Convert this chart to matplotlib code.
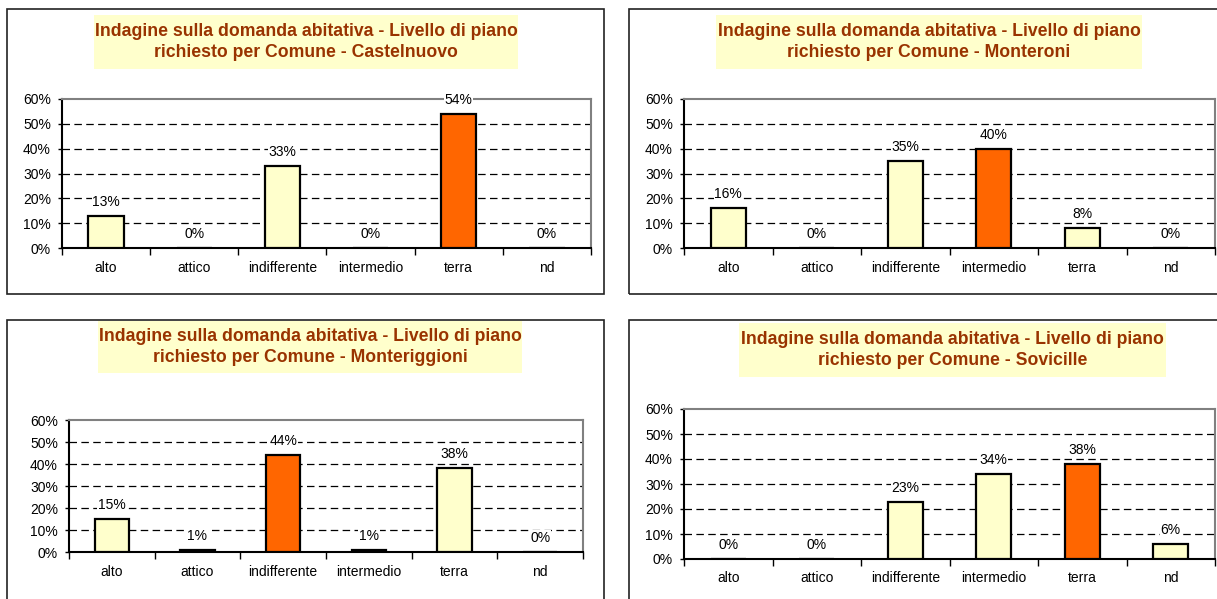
import numpy as np
import matplotlib
matplotlib.use('Agg')
from matplotlib import pyplot as plt
from matplotlib.patches import Rectangle

plt.rcParams['font.family'] = ['Liberation Sans', 'DejaVu Sans']

categories = ['alto', 'attico', 'indifferente', 'intermedio', 'terra', 'nd']
comuni = ['Castelnuovo', 'Monteroni', 'Monteriggioni', 'Sovicille']
castelnuovo = [0.13, 0.0, 0.33, 0.0, 0.54, 0.0]
monteroni = [0.16, 0.0, 0.35, 0.40, 0.08, 0.0]
monteriggioni = [0.15, 0.01, 0.44, 0.01, 0.38, 0.0]
sovicille = [0.0, 0.0, 0.23, 0.34, 0.38, 0.06]
y_ticks = [0.0, 0.1, 0.2, 0.3, 0.4, 0.5, 0.6]

W, H = 1217, 599

# pixel boxes (x0, y0, x1, y1) measured from the top-left corner
layout = [
    dict(frame=(7, 9, 604, 294), title=(94, 15, 518, 69), axes=(62, 99, 591, 248)),
    dict(frame=(629, 9, 1250, 294), title=(716, 15, 1142, 69), axes=(684, 99, 1215, 248)),
    dict(frame=(7, 320, 604, 650), title=(98, 321, 522, 373), axes=(69, 420, 583, 552)),
    dict(frame=(629, 320, 1250, 650), title=(739, 323, 1166, 377), axes=(684, 409, 1215, 559)),
]


def fig_rect(box):
    x0, y0, x1, y1 = box
    return [x0 / W, 1 - y1 / H, (x1 - x0) / W, (y1 - y0) / H]


def draw_panel(fig, values, comune, lay):
    l, b, w, h = fig_rect(lay['frame'])
    fig.add_artist(Rectangle((l, b), w, h, transform=fig.transFigure,
                             fill=False, edgecolor='#222222', linewidth=1.2))
    l, b, w, h = fig_rect(lay['title'])
    fig.add_artist(Rectangle((l, b), w, h, transform=fig.transFigure,
                             facecolor='#FFFFCC', edgecolor='none'))
    fig.text(l + w / 2, b + h / 2,
             'Indagine sulla domanda abitativa - Livello di piano\n'
             'richiesto per Comune - ' + comune,
             ha='center', va='center', fontsize=12.7, fontweight='bold',
             color='#993300', linespacing=1.3)

    ax = fig.add_axes(fig_rect(lay['axes']))
    x = np.arange(len(categories))
    top = int(np.argmax(values))
    colors = ['#FF6600' if i == top else '#FFFFCC' for i in range(len(values))]
    ax.bar(x, values, width=0.4, color=colors, edgecolor='black',
           linewidth=1.6, zorder=3)
    for yv in y_ticks[1:-1]:
        ax.axhline(yv, color='black', linewidth=0.9,
                   linestyle=(0, (6, 3.5)), zorder=1)
    for i, v in enumerate(values):
        ax.annotate('{:.0%}'.format(v), (i, v), xytext=(0, 5),
                    textcoords='offset points', ha='center', va='bottom',
                    fontsize=10, zorder=4,
                    bbox=dict(facecolor='white', edgecolor='none', pad=0.5))

    ax.set_xlim(-0.5, len(categories) - 0.5)
    ax.set_ylim(0, 0.6)
    ax.set_yticks(y_ticks)
    ax.set_yticklabels(['{:.0%}'.format(t) for t in y_ticks], fontsize=10)
    ax.set_xticks(x)
    ax.set_xticklabels(categories, fontsize=10)
    ax.set_xticks(np.arange(-0.5, len(categories)), minor=True)
    ax.tick_params(axis='x', which='major', length=0, pad=9)
    ax.tick_params(axis='x', which='minor', length=5, width=1, direction='out')
    ax.tick_params(axis='y', length=3, width=1, pad=5)
    for side in ['left', 'bottom']:
        ax.spines[side].set_color('black')
        ax.spines[side].set_linewidth(1.5)
    for side in ['top', 'right']:
        ax.spines[side].set_color('#808080')
        ax.spines[side].set_linewidth(1.5)
    ax.set_facecolor('white')


def main():
    fig = plt.figure(figsize=(W / 100, H / 100), dpi=100)
    fig.patch.set_facecolor('white')
    series = [castelnuovo, monteroni, monteriggioni, sovicille]
    for values, comune, lay in zip(series, comuni, layout):
        draw_panel(fig, values, comune, lay)
    fig.savefig('out.png', dpi=100)


if __name__ == '__main__':
    main()
